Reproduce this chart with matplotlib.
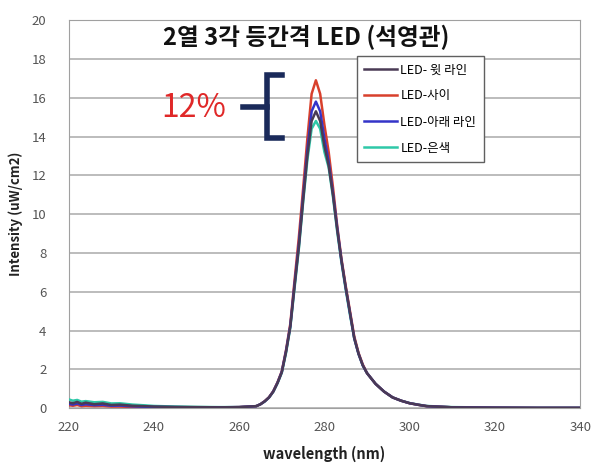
import matplotlib
matplotlib.use("Agg")
import matplotlib.pyplot as plt

plt.rcParams['font.family'] = ['Noto Sans CJK KR', 'DejaVu Sans']

wavelength = [220, 221, 222, 223, 224, 226, 228, 230, 232, 235, 238, 240, 245, 250, 255, 260, 264, 265, 266, 267,
              268, 269, 270, 271, 272, 273, 274, 275, 276, 277, 278, 279, 280, 281, 282, 283, 284,
              285, 286, 287, 288, 289, 290, 292, 294, 296, 298, 300, 302, 304, 310, 320, 330, 340]

led_top = [0.30, 0.25, 0.32, 0.22, 0.28, 0.20, 0.24, 0.16, 0.18, 0.12, 0.10, 0.08, 0.06, 0.05, 0.04, 0.05, 0.10, 0.2, 0.35, 0.55,
           0.85, 1.3, 1.85, 2.9, 4.2, 6.3, 8.3, 10.7, 13.0, 14.8, 15.3, 14.8, 13.5, 12.5, 11.0, 9.2, 7.6,
           6.2, 4.9, 3.6, 2.8, 2.2, 1.8, 1.25, 0.85, 0.55, 0.38, 0.25, 0.17, 0.1, 0.04, 0.02, 0.01, 0.01]
led_between = [0.15, 0.12, 0.16, 0.10, 0.12, 0.10, 0.11, 0.08, 0.08, 0.06, 0.05, 0.04, 0.04, 0.03, 0.03, 0.05, 0.10, 0.2, 0.36, 0.56,
               0.87, 1.33, 1.9, 3.0, 4.35, 6.6, 8.8, 11.3, 13.9, 16.2, 16.9, 16.2, 14.6, 13.2, 11.4, 9.4, 7.7,
               6.3, 5.0, 3.7, 2.85, 2.25, 1.8, 1.25, 0.85, 0.55, 0.38, 0.25, 0.17, 0.1, 0.04, 0.02, 0.01, 0.01]
led_bottom = [0.22, 0.18, 0.24, 0.16, 0.2, 0.15, 0.17, 0.12, 0.13, 0.09, 0.07, 0.06, 0.05, 0.04, 0.04, 0.05, 0.10, 0.2, 0.35, 0.55,
              0.86, 1.31, 1.87, 2.95, 4.25, 6.4, 8.45, 10.9, 13.3, 15.3, 15.8, 15.3, 13.9, 12.7, 11.1, 9.3, 7.6,
              6.2, 4.9, 3.6, 2.8, 2.2, 1.8, 1.25, 0.85, 0.55, 0.38, 0.25, 0.17, 0.1, 0.04, 0.02, 0.01, 0.01]
led_silver = [0.45, 0.38, 0.42, 0.33, 0.36, 0.30, 0.32, 0.24, 0.25, 0.18, 0.14, 0.11, 0.08, 0.06, 0.05, 0.05, 0.10, 0.2, 0.34, 0.54,
              0.84, 1.28, 1.82, 2.85, 4.15, 6.2, 8.2, 10.6, 12.8, 14.4, 14.8, 14.4, 13.2, 12.4, 10.9, 9.1, 7.5,
              6.1, 4.8, 3.6, 2.8, 2.2, 1.8, 1.25, 0.85, 0.55, 0.38, 0.26, 0.18, 0.11, 0.05, 0.03, 0.02, 0.02]

series_names = ['LED- 윗 라인', 'LED-사이', 'LED-아래 라인', 'LED-은색']
series_values = [led_top, led_between, led_bottom, led_silver]
series_colors = ['#4a3a55', '#d8402c', '#3434c8', '#2ec8a8']
series_z = [6, 4, 5, 3]

x_ticks = [220, 240, 260, 280, 300, 320, 340]
y_ticks = [0, 2, 4, 6, 8, 10, 12, 14, 16, 18, 20]

fig = plt.figure(figsize=(5.92, 4.68), dpi=100)
ax = fig.add_axes([0.116, 0.128, 0.864, 0.829])

for name, vals, col, z in zip(series_names, series_values, series_colors, series_z):
    ax.plot(wavelength, vals, color=col, lw=1.8, label=name, zorder=z)

ax.set_xlim(220, 340)
ax.set_ylim(0, 20)
ax.set_xticks(x_ticks)
ax.set_yticks(y_ticks)
ax.yaxis.grid(True, color='#b0b0b0', lw=1.2)
ax.set_axisbelow(True)
for s in ax.spines.values():
    s.set_color('#a0a0a0')
ax.tick_params(length=0, labelsize=9.5, colors='#555555')
ax.tick_params(axis='y', pad=16)
ax.tick_params(axis='x', pad=9)

ax.set_xlabel('wavelength (nm)', fontsize=10.5, fontweight='bold', color='#222222', labelpad=9)
ax.set_ylabel('Intensity (uW/cm2)', fontsize=9.5, fontweight='bold', color='#222222', labelpad=6)

ax.text(0.465, 0.955, '2열 3각 등간격 LED (석영관)', transform=ax.transAxes, ha='center', va='center',
        fontsize=17, fontweight='bold', color='#111111', zorder=10,
        bbox=dict(facecolor='white', edgecolor='none', pad=1))

leg = ax.legend(loc='upper left', bbox_to_anchor=(0.563, 0.908), borderaxespad=0, frameon=True, fancybox=False,
                edgecolor='#606060', fontsize=9, handlelength=2.6, handletextpad=0.3,
                borderpad=0.6, labelspacing=1.05, framealpha=1)
leg.get_frame().set_linewidth(1.0)
leg.set_zorder(12)

ax.text(257.0, 15.45, '12%', color='#e02828', fontsize=23, ha='right', va='center', zorder=10)
bx = [270.0, 266.5, 266.5, 270.0]
by = [17.15, 17.15, 13.9, 13.9]
ax.plot(bx, by, color='#1a2a5a', lw=4, solid_joinstyle='miter', zorder=10)
ax.plot([261.0, 266.5], [15.5, 15.5], color='#1a2a5a', lw=4, zorder=10)

fig.savefig('out.png', dpi=100, facecolor='white')
